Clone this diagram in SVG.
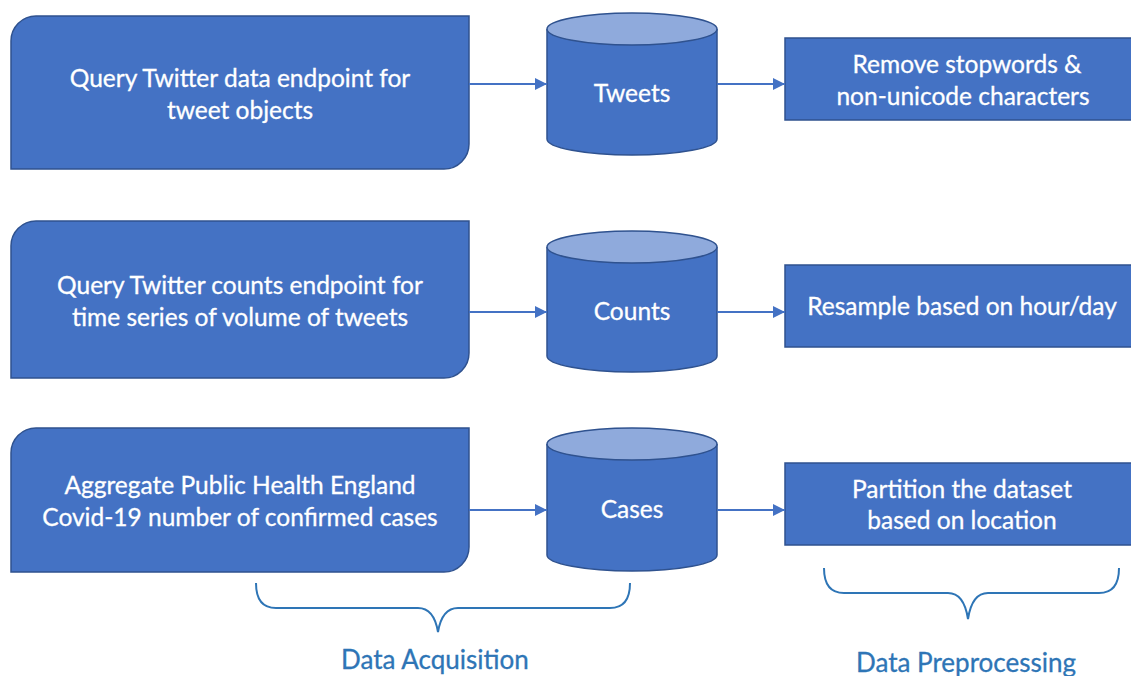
<svg xmlns="http://www.w3.org/2000/svg" width="1131" height="676" viewBox="0 0 1131 676">
<style>
.box{fill:#4472C4;stroke:#2F528F;stroke-width:1.5}
.top{fill:#8FAADC;stroke:#2F528F;stroke-width:1.5}
.t{font-family:Lato,"Open Sans",sans-serif;font-size:24.5px;fill:#fff;text-anchor:middle;stroke:#fff;stroke-width:0.3}
.lbl{font-family:Lato,"Open Sans",sans-serif;font-size:26px;fill:#2E75B6;text-anchor:middle;stroke:#2E75B6;stroke-width:0.3}
.con{stroke:#4472C4;stroke-width:2;fill:none;marker-end:url(#ah)}
.brace{stroke:#2E75B6;stroke-width:2;fill:none}
</style>
<defs>
<marker id="ah" viewBox="0 0 10 10" refX="10" refY="5" markerWidth="6" markerHeight="6" markerUnits="strokeWidth" orient="auto">
<path d="M0,0 L10,5 L0,10 Z" fill="#4472C4"/>
</marker>
</defs>
<rect width="1131" height="676" fill="#fff"/>
<g id="q1">
<path class="box" d="M36,16 H469 V144 A25,25 0 0 1 444,169 H11 V41 A25,25 0 0 1 36,16 Z"/>
<text class="t" x="240" y="87">Query Twitter data endpoint for</text>
<text class="t" x="240" y="119">tweet objects</text>
</g>
<g id="q2">
<path class="box" d="M36,221 H469 V353 A25,25 0 0 1 444,378 H11 V246 A25,25 0 0 1 36,221 Z"/>
<text class="t" x="240" y="294">Query Twitter counts endpoint for</text>
<text class="t" x="240" y="326">time series of volume of tweets</text>
</g>
<g id="q3">
<path class="box" d="M36,428 H469 V547 A25,25 0 0 1 444,572 H11 V453 A25,25 0 0 1 36,428 Z"/>
<text class="t" x="240" y="494">Aggregate Public Health England</text>
<text class="t" x="240" y="526">Covid-19 number of confirmed cases</text>
</g>
<g id="tweets">
<path class="box" d="M547,29 V139 A85,16 0 0 0 717,139 V29"/>
<ellipse class="top" cx="632" cy="29" rx="85" ry="16"/>
<text class="t" x="632" y="102">Tweets</text>
</g>
<g id="counts">
<path class="box" d="M547,247 V356 A85,16 0 0 0 717,356 V247"/>
<ellipse class="top" cx="632" cy="247" rx="85" ry="16"/>
<text class="t" x="632" y="320">Counts</text>
</g>
<g id="cases">
<path class="box" d="M547,444 V555 A85,16 0 0 0 717,555 V444"/>
<ellipse class="top" cx="632" cy="444" rx="85" ry="16"/>
<text class="t" x="632" y="518">Cases</text>
</g>
<g id="p1">
<rect class="box" x="785" y="38" width="360" height="82"/>
<text class="t" x="967" y="73">Remove stopwords &amp;</text>
<text class="t" x="963" y="105">non-unicode characters</text>
</g>
<g id="p2">
<rect class="box" x="785" y="265" width="360" height="82"/>
<text class="t" x="962" y="315">Resample based on hour/day</text>
</g>
<g id="p3">
<rect class="box" x="785" y="463" width="360" height="82"/>
<text class="t" x="962" y="498">Partition the dataset</text>
<text class="t" x="962" y="529">based on location</text>
</g>
<g id="connectors">
<line class="con" x1="469" y1="84" x2="547" y2="84"/>
<line class="con" x1="717" y1="84" x2="785" y2="84"/>
<line class="con" x1="469" y1="312" x2="547" y2="312"/>
<line class="con" x1="717" y1="312" x2="785" y2="312"/>
<line class="con" x1="469" y1="510" x2="547" y2="510"/>
<line class="con" x1="717" y1="510" x2="785" y2="510"/>
</g>
<g id="acq">
<path class="brace" d="M256,583 Q256,608 276,608 H418 Q434,608 438,632 Q442,608 458,608 H610 Q630,608 630,583"/>
<text class="lbl" x="435" y="669">Data Acquisition</text>
</g>
<g id="prep">
<path class="brace" d="M824,568 Q824,593 844,593 H948 Q964,593 968,619 Q972,593 988,593 H1099 Q1119,593 1119,568"/>
<text class="lbl" x="966" y="672">Data Preprocessing</text>
</g>
</svg>
